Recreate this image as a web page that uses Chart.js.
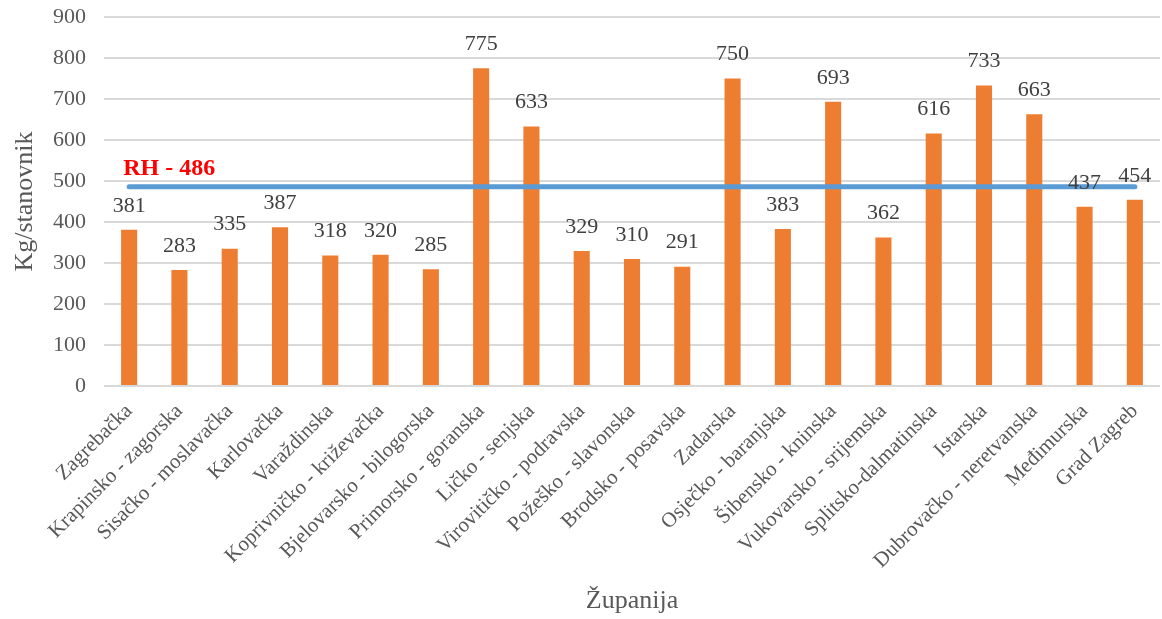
<!DOCTYPE html>
<html lang="hr">
<head>
    <meta charset="UTF-8">
    <title>Kg/stanovnik po županijama</title>
    <style>
        html, body { margin: 0; padding: 0; background: #fff; }
        .chart-box { width: 1162px; height: 619px; }
    </style>
</head>
<body>

<div class="chart-box">
    <canvas id="zupChart"></canvas>
</div>

<script src="https://cdn.jsdelivr.net/npm/chart.js"></script>
<script>
    // data
    const zupanije = [
        'Zagrebačka', 'Krapinsko - zagorska', 'Sisačko - moslavačka', 'Karlovačka',
        'Varaždinska', 'Koprivničko - križevačka', 'Bjelovarsko - bilogorska',
        'Primorsko - goranska', 'Ličko - senjska', 'Virovitičko - podravska',
        'Požeško - slavonska', 'Brodsko - posavska', 'Zadarska', 'Osječko - baranjska',
        'Šibensko - kninska', 'Vukovarsko - srijemska', 'Splitsko-dalmatinska',
        'Istarska', 'Dubrovačko - neretvanska', 'Međimurska', 'Grad Zagreb'
    ];
    const kgPoStanovniku = [381, 283, 335, 387, 318, 320, 285, 775, 633, 329, 310, 291,
                            750, 383, 693, 362, 616, 733, 663, 437, 454];
    const prosjekRH = 486;
    const rhLabel = 'RH - 486';
    const yTicks = [0, 100, 200, 300, 400, 500, 600, 700, 800, 900];

    const serif = '"Liberation Serif", "Times New Roman", serif';
    const prosjekData = zupanije.map(() => prosjekRH);

    // value labels above bars + the red RH label
    const labelsPlugin = {
        id: 'labelsPlugin',
        afterDatasetsDraw(chart) {
            const ctx = chart.ctx;
            const meta = chart.getDatasetMeta(0);
            ctx.save();
            ctx.font = '22px ' + serif;
            ctx.fillStyle = '#404040';
            ctx.textAlign = 'center';
            ctx.textBaseline = 'middle';
            meta.data.forEach((bar, i) => {
                ctx.fillText(String(kgPoStanovniku[i]), bar.x, bar.y - 24);
            });

            const x = chart.scales.x;
            const y = chart.scales.y;
            ctx.font = 'bold 24px ' + serif;
            ctx.fillStyle = '#ff0000';
            ctx.textAlign = 'left';
            ctx.fillText(rhLabel, x.getPixelForValue(0) - 6, y.getPixelForValue(prosjekRH) - 18);
            ctx.restore();
        }
    };

    const ctx = document.getElementById('zupChart').getContext('2d');
    const zupChart = new Chart(ctx, {
        type: 'bar',
        data: {
            labels: zupanije,
            datasets: [{
                type: 'bar',
                data: kgPoStanovniku,
                backgroundColor: '#ed7d31',
                barPercentage: 0.32,
                categoryPercentage: 1,
                order: 1
            }, {
                type: 'line',
                data: prosjekData,
                borderColor: '#5b9bd5',
                borderWidth: 5,
                borderCapStyle: 'round',
                pointRadius: 0,
                fill: false,
                order: 0
            }]
        },
        options: {
            responsive: true,
            maintainAspectRatio: false,
            animation: false,
            layout: { padding: { left: 0, right: 2, top: 17, bottom: 0 } },
            plugins: {
                legend: { display: false },
                tooltip: { enabled: false }
            },
            scales: {
                x: {
                    grid: { display: false },
                    border: { display: false },
                    ticks: {
                        color: '#595959',
                        font: { family: serif, size: 21 },
                        minRotation: 45,
                        maxRotation: 45,
                        autoSkip: false,
                        padding: 5
                    },
                    title: {
                        display: true,
                        text: 'Županija',
                        color: '#595959',
                        font: { family: serif, size: 26 },
                        padding: { top: 0, bottom: 2 }
                    },
                    afterFit(scale) { scale.height = 233; }
                },
                y: {
                    min: 0,
                    max: 900,
                    afterBuildTicks(scale) { scale.ticks = yTicks.map(v => ({ value: v })); },
                    grid: { color: '#d9d9d9', lineWidth: 2, drawTicks: false },
                    border: { display: false },
                    ticks: {
                        color: '#595959',
                        font: { family: serif, size: 22 },
                        padding: 18
                    },
                    title: {
                        display: true,
                        text: 'Kg/stanovnik',
                        color: '#595959',
                        font: { family: serif, size: 26 },
                        padding: { top: 10, bottom: 0 }
                    },
                    afterFit(scale) {
                        scale.width = 104;
                        scale.paddingTop = 0;
                        scale.paddingBottom = 0;
                    }
                }
            }
        },
        plugins: [labelsPlugin]
    });
</script>

</body>
</html>
